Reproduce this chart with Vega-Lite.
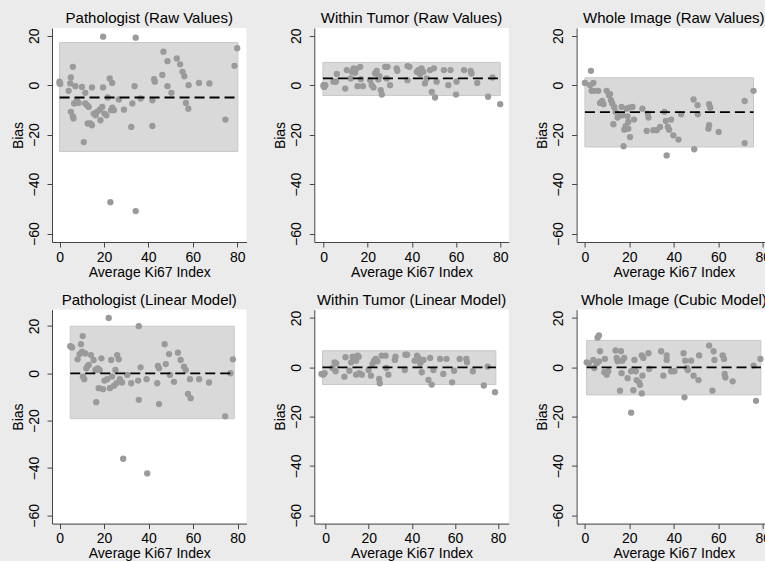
{
  "$schema": "https://vega.github.io/schema/vega-lite/v6.json",
  "background": "#ebebeb",
  "padding": {"left": 10, "top": 10, "right": 0, "bottom": 0},
  "datasets": {
    "stats": [
      {"p": "p1", "xmin": 0, "xmax": 80.3, "lo": -26.8, "hi": 17.2, "mean": -5},
      {"p": "p2", "xmin": -0.3, "xmax": 80, "lo": -4.2, "hi": 9.2, "mean": 2.7},
      {"p": "p3", "xmin": 0, "xmax": 75.9, "lo": -25, "hi": 3, "mean": -10.9},
      {"p": "p4", "xmin": 4.8, "xmax": 78.5, "lo": -19.2, "hi": 19.9, "mean": 0},
      {"p": "p5", "xmin": -1.5, "xmax": 79, "lo": -7.0, "hi": 6.7, "mean": 0},
      {"p": "p6", "xmin": 0.75, "xmax": 79.2, "lo": -11.2, "hi": 10.9, "mean": 0}
    ],
    "pts": [
      {"p":"p1","x":0,"y":1.4},{"p":"p1","x":0.3,"y":0.5},{"p":"p1","x":0,"y":0.8},
      {"p":"p1","x":4.1,"y":-2.3},{"p":"p1","x":4.8,"y":0.7},{"p":"p1","x":5.1,"y":3.1},
      {"p":"p1","x":6,"y":7.4},{"p":"p1","x":7.1,"y":-0.4},{"p":"p1","x":5.1,"y":-10.8},
      {"p":"p1","x":6,"y":-12.6},{"p":"p1","x":6.3,"y":-13.5},{"p":"p1","x":6.6,"y":-7.4},
      {"p":"p1","x":7.8,"y":-6.1},{"p":"p1","x":8.6,"y":-7.2},{"p":"p1","x":10.1,"y":-0.7},
      {"p":"p1","x":10.9,"y":-23},{"p":"p1","x":11.6,"y":-3.1},{"p":"p1","x":11.6,"y":-7.4},
      {"p":"p1","x":12.4,"y":-8.1},{"p":"p1","x":12.7,"y":-15.5},{"p":"p1","x":13.1,"y":-8.8},
      {"p":"p1","x":13.9,"y":-15.5},{"p":"p1","x":14.6,"y":-0.9},{"p":"p1","x":14.6,"y":-16.2},
      {"p":"p1","x":15.4,"y":-11.5},{"p":"p1","x":16.2,"y":-12.2},{"p":"p1","x":16.9,"y":-10.8},
      {"p":"p1","x":18.1,"y":-9.9},{"p":"p1","x":18.4,"y":-14.2},{"p":"p1","x":19.6,"y":19.6},
      {"p":"p1","x":19.6,"y":-0.9},{"p":"p1","x":19.2,"y":-8.8},{"p":"p1","x":20.2,"y":-11.5},
      {"p":"p1","x":21.1,"y":-12.2},{"p":"p1","x":21.7,"y":-5},{"p":"p1","x":22.6,"y":2.7},
      {"p":"p1","x":23.2,"y":-10.1},{"p":"p1","x":23.7,"y":0.9},{"p":"p1","x":22.9,"y":-47.3},
      {"p":"p1","x":23.8,"y":-9.1},{"p":"p1","x":24.5,"y":-10.1},{"p":"p1","x":26.7,"y":-5.8},
      {"p":"p1","x":29,"y":-9.9},{"p":"p1","x":32.3,"y":-16.9},{"p":"p1","x":32.8,"y":-7.4},
      {"p":"p1","x":34.3,"y":19.2},{"p":"p1","x":33.8,"y":-0.4},{"p":"p1","x":34.3,"y":-50.9},
      {"p":"p1","x":36.5,"y":-5.4},{"p":"p1","x":41.8,"y":-6.1},{"p":"p1","x":41.8,"y":-16.5},
      {"p":"p1","x":42.6,"y":2.4},{"p":"p1","x":42.9,"y":1.4},{"p":"p1","x":46.3,"y":4.1},
      {"p":"p1","x":46.8,"y":13.5},{"p":"p1","x":48.6,"y":9.7},{"p":"p1","x":48.6,"y":-0.4},
      {"p":"p1","x":50.4,"y":-3.1},{"p":"p1","x":52.8,"y":10.8},{"p":"p1","x":54.3,"y":8.4},
      {"p":"p1","x":55.4,"y":5.4},{"p":"p1","x":56.2,"y":3.6},{"p":"p1","x":56.9,"y":-7.2},
      {"p":"p1","x":58,"y":-9.5},{"p":"p1","x":58.1,"y":0},{"p":"p1","x":62.8,"y":0.9},
      {"p":"p1","x":67.5,"y":0.7},{"p":"p1","x":74.7,"y":-13.9},{"p":"p1","x":78.8,"y":7.8},
      {"p":"p1","x":80,"y":14.9},

      {"p":"p2","x":0,"y":0},{"p":"p2","x":0,"y":-0.4},{"p":"p2","x":0.3,"y":-0.7},{"p":"p2","x":0.8,"y":0},
      {"p":"p2","x":4.5,"y":1.4},{"p":"p2","x":5.6,"y":1.4},{"p":"p2","x":6,"y":4.5},
      {"p":"p2","x":9.8,"y":-1.4},{"p":"p2","x":10.5,"y":6.1},{"p":"p2","x":12.3,"y":2.7},
      {"p":"p2","x":12.8,"y":5.4},{"p":"p2","x":13.6,"y":6.8},{"p":"p2","x":14.3,"y":5},
      {"p":"p2","x":14.8,"y":6.5},{"p":"p2","x":15.4,"y":-0.4},{"p":"p2","x":16.6,"y":7.4},
      {"p":"p2","x":16.9,"y":2.4},{"p":"p2","x":17.8,"y":-0.4},{"p":"p2","x":21.1,"y":2},
      {"p":"p2","x":21.8,"y":0},{"p":"p2","x":22.6,"y":-0.9},{"p":"p2","x":23.3,"y":4.7},
      {"p":"p2","x":24.1,"y":5.8},{"p":"p2","x":24.8,"y":2.3},{"p":"p2","x":25.3,"y":3.6},
      {"p":"p2","x":25.9,"y":-2},{"p":"p2","x":26.4,"y":-3.8},{"p":"p2","x":27.9,"y":7.4},
      {"p":"p2","x":28.9,"y":7.4},{"p":"p2","x":28.6,"y":2.7},{"p":"p2","x":30.1,"y":0},
      {"p":"p2","x":33.1,"y":6.8},{"p":"p2","x":33.4,"y":5.8},{"p":"p2","x":38,"y":7.7},
      {"p":"p2","x":38.9,"y":7.4},{"p":"p2","x":38,"y":2},{"p":"p2","x":42.2,"y":5.4},
      {"p":"p2","x":42.9,"y":6.1},{"p":"p2","x":43.7,"y":4.5},{"p":"p2","x":44.4,"y":6.8},
      {"p":"p2","x":45.2,"y":5.4},{"p":"p2","x":45.9,"y":0.7},{"p":"p2","x":46.7,"y":2.7},
      {"p":"p2","x":48.2,"y":6.1},{"p":"p2","x":49,"y":-2.7},{"p":"p2","x":50,"y":6.8},
      {"p":"p2","x":50.5,"y":-5},{"p":"p2","x":51.2,"y":1.4},{"p":"p2","x":54.5,"y":6.1},
      {"p":"p2","x":56.5,"y":0},{"p":"p2","x":57.5,"y":6.1},{"p":"p2","x":60,"y":-3.8},
      {"p":"p2","x":60.2,"y":1.4},{"p":"p2","x":63.6,"y":6.1},{"p":"p2","x":66.6,"y":5.8},
      {"p":"p2","x":67,"y":4.7},{"p":"p2","x":69.6,"y":0.9},{"p":"p2","x":74.5,"y":-4.7},
      {"p":"p2","x":76.5,"y":3.1},{"p":"p2","x":80,"y":-7.7},

      {"p":"p3","x":0,"y":0.9},{"p":"p3","x":2.3,"y":0},{"p":"p3","x":2.7,"y":5.8},
      {"p":"p3","x":3,"y":-2.3},{"p":"p3","x":3.8,"y":0.9},{"p":"p3","x":4.2,"y":-2.3},
      {"p":"p3","x":6,"y":-2.3},{"p":"p3","x":6.8,"y":-7.2},{"p":"p3","x":7.8,"y":-6.4},
      {"p":"p3","x":8.3,"y":-7.7},{"p":"p3","x":9.8,"y":-2.3},{"p":"p3","x":10.8,"y":-4.1},
      {"p":"p3","x":11.3,"y":-3.6},{"p":"p3","x":11.7,"y":-6.1},{"p":"p3","x":12.3,"y":-7.4},
      {"p":"p3","x":12.8,"y":-15.8},{"p":"p3","x":13.2,"y":-8.8},{"p":"p3","x":13.8,"y":-10.8},
      {"p":"p3","x":14.7,"y":-13.1},{"p":"p3","x":15.8,"y":-12.2},{"p":"p3","x":16.5,"y":-8.8},
      {"p":"p3","x":16.8,"y":-12.2},{"p":"p3","x":17.4,"y":-24.7},{"p":"p3","x":17.7,"y":-18},
      {"p":"p3","x":18.3,"y":-16.6},{"p":"p3","x":18.8,"y":-9.5},{"p":"p3","x":19.2,"y":-12.6},
      {"p":"p3","x":19.5,"y":-14.9},{"p":"p3","x":19.5,"y":-17.6},{"p":"p3","x":19.8,"y":-9.1},
      {"p":"p3","x":20.3,"y":-21},{"p":"p3","x":21.4,"y":-8.8},{"p":"p3","x":22.1,"y":-13.9},
      {"p":"p3","x":25.9,"y":-9.5},{"p":"p3","x":27.8,"y":-18.5},{"p":"p3","x":28.3,"y":-11.5},
      {"p":"p3","x":28.6,"y":-13.1},{"p":"p3","x":30.8,"y":-18.2},{"p":"p3","x":32.3,"y":-18.2},
      {"p":"p3","x":33.8,"y":-16.9},{"p":"p3","x":35.8,"y":-10.8},{"p":"p3","x":36.4,"y":-14.5},
      {"p":"p3","x":36.8,"y":-28.4},{"p":"p3","x":37.3,"y":-16.9},{"p":"p3","x":37.9,"y":-18},
      {"p":"p3","x":38.8,"y":-13.9},{"p":"p3","x":39.8,"y":-20.3},{"p":"p3","x":42.1,"y":-22},
      {"p":"p3","x":43.3,"y":-11.8},{"p":"p3","x":48.9,"y":-5.8},{"p":"p3","x":49.2,"y":-25.9},
      {"p":"p3","x":50.7,"y":-8.1},{"p":"p3","x":50.8,"y":-11.8},{"p":"p3","x":55.9,"y":-7.7},
      {"p":"p3","x":56.4,"y":-9.1},{"p":"p3","x":55.9,"y":-16.2},{"p":"p3","x":55.6,"y":-17.6},
      {"p":"p3","x":60.2,"y":-18.9},{"p":"p3","x":71.9,"y":-6.4},{"p":"p3","x":71.9,"y":-23.4},
      {"p":"p3","x":75.9,"y":-2.3},

      {"p":"p4","x":5.1,"y":11.2},{"p":"p4","x":4.8,"y":11.5},{"p":"p4","x":5.6,"y":10.9},
      {"p":"p4","x":8.1,"y":5.9},{"p":"p4","x":9,"y":8.1},{"p":"p4","x":9.6,"y":12.3},
      {"p":"p4","x":10.1,"y":9.1},{"p":"p4","x":10.4,"y":15.7},{"p":"p4","x":10.5,"y":-1.4},
      {"p":"p4","x":11.1,"y":-2.5},{"p":"p4","x":11.6,"y":8.4},{"p":"p4","x":12,"y":2.1},
      {"p":"p4","x":12.6,"y":3.1},{"p":"p4","x":13.1,"y":3.5},{"p":"p4","x":14.1,"y":7.7},
      {"p":"p4","x":15.3,"y":5.6},{"p":"p4","x":16.1,"y":1.4},{"p":"p4","x":16.5,"y":-12.2},
      {"p":"p4","x":17.1,"y":2.1},{"p":"p4","x":17.6,"y":-6.3},{"p":"p4","x":18,"y":1.4},
      {"p":"p4","x":18.8,"y":6.3},{"p":"p4","x":19.5,"y":-6.7},{"p":"p4","x":20.2,"y":-3.1},
      {"p":"p4","x":21.4,"y":-2.5},{"p":"p4","x":22.1,"y":23.4},{"p":"p4","x":22.6,"y":-6.3},
      {"p":"p4","x":23.2,"y":5.6},{"p":"p4","x":23.6,"y":-1.4},{"p":"p4","x":24.4,"y":-5.3},
      {"p":"p4","x":25.1,"y":1.4},{"p":"p4","x":25.6,"y":-4.2},{"p":"p4","x":25.9,"y":7.7},
      {"p":"p4","x":26.6,"y":5.9},{"p":"p4","x":27.1,"y":-2.5},{"p":"p4","x":28.1,"y":-3.9},
      {"p":"p4","x":28.6,"y":-36.1},{"p":"p4","x":30.4,"y":-0.7},{"p":"p4","x":32.2,"y":-4.2},
      {"p":"p4","x":35.3,"y":-3.1},{"p":"p4","x":35.6,"y":19.9},{"p":"p4","x":35.6,"y":-11.2},
      {"p":"p4","x":36.4,"y":2.5},{"p":"p4","x":39.1,"y":-2.5},{"p":"p4","x":39.4,"y":-42.3},
      {"p":"p4","x":43.9,"y":-4.2},{"p":"p4","x":44.2,"y":3.1},{"p":"p4","x":44.7,"y":2.1},
      {"p":"p4","x":44.7,"y":-13},{"p":"p4","x":47.2,"y":12.3},{"p":"p4","x":47.7,"y":3.9},
      {"p":"p4","x":49.2,"y":8.1},{"p":"p4","x":49.6,"y":-0.7},{"p":"p4","x":51.4,"y":-3.6},
      {"p":"p4","x":53.2,"y":8.7},{"p":"p4","x":54.4,"y":5.6},{"p":"p4","x":55.9,"y":2.8},
      {"p":"p4","x":56.7,"y":1.4},{"p":"p4","x":57.7,"y":-8.7},{"p":"p4","x":58.6,"y":-2.5},
      {"p":"p4","x":58.9,"y":-10.5},{"p":"p4","x":62.7,"y":-2.5},{"p":"p4","x":67.2,"y":-3.9},
      {"p":"p4","x":74.4,"y":-18.2},{"p":"p4","x":76.8,"y":0},{"p":"p4","x":77.9,"y":5.9},

      {"p":"p5","x":-2,"y":-2.7},{"p":"p5","x":-1.2,"y":-3},{"p":"p5","x":-0.5,"y":-2.4},
      {"p":"p5","x":3.1,"y":-0.3},{"p":"p5","x":4.1,"y":2},{"p":"p5","x":4.6,"y":-1.6},
      {"p":"p5","x":4.9,"y":1.6},{"p":"p5","x":8.7,"y":-3.8},{"p":"p5","x":9.2,"y":4.1},
      {"p":"p5","x":11,"y":-1.4},{"p":"p5","x":11.8,"y":2},{"p":"p5","x":12.5,"y":4.3},
      {"p":"p5","x":13.3,"y":3},{"p":"p5","x":14.1,"y":2.7},{"p":"p5","x":14.8,"y":4.7},
      {"p":"p5","x":15.3,"y":4.3},{"p":"p5","x":14.1,"y":-3},{"p":"p5","x":15.6,"y":-2.4},
      {"p":"p5","x":16.8,"y":-3},{"p":"p5","x":19.9,"y":-1.1},{"p":"p5","x":21,"y":-3.4},
      {"p":"p5","x":21.7,"y":1.4},{"p":"p5","x":22.5,"y":2.7},{"p":"p5","x":23.2,"y":3.4},
      {"p":"p5","x":24,"y":2.4},{"p":"p5","x":24.8,"y":-4.7},{"p":"p5","x":25.1,"y":-6.5},
      {"p":"p5","x":26,"y":4.7},{"p":"p5","x":27.8,"y":4.7},{"p":"p5","x":28.1,"y":-0.3},
      {"p":"p5","x":29.1,"y":-3},{"p":"p5","x":32.1,"y":3},{"p":"p5","x":32.4,"y":4.3},
      {"p":"p5","x":36.7,"y":-1.1},{"p":"p5","x":37,"y":5.1},{"p":"p5","x":37.8,"y":5.1},
      {"p":"p5","x":41.3,"y":2.7},{"p":"p5","x":42.4,"y":4.7},{"p":"p5","x":43.1,"y":3.8},
      {"p":"p5","x":43.9,"y":1.6},{"p":"p5","x":44.6,"y":-2},{"p":"p5","x":45.4,"y":3},
      {"p":"p5","x":47.7,"y":-5.1},{"p":"p5","x":48.5,"y":3.8},{"p":"p5","x":49.2,"y":-7},
      {"p":"p5","x":50,"y":-1.1},{"p":"p5","x":53.1,"y":3.4},{"p":"p5","x":54.6,"y":-2.7},
      {"p":"p5","x":56.1,"y":3.4},{"p":"p5","x":58.7,"y":-6.1},{"p":"p5","x":59.6,"y":-1.4},
      {"p":"p5","x":62.2,"y":3.4},{"p":"p5","x":65.3,"y":3.4},{"p":"p5","x":65.6,"y":2},
      {"p":"p5","x":68.3,"y":-1.6},{"p":"p5","x":73.4,"y":-7.4},{"p":"p5","x":75.2,"y":0.3},
      {"p":"p5","x":78.6,"y":-10.1},

      {"p":"p6","x":0.8,"y":2},{"p":"p6","x":1.8,"y":1.6},{"p":"p6","x":3.8,"y":3},
      {"p":"p6","x":4.2,"y":-0.3},{"p":"p6","x":5.3,"y":1.6},{"p":"p6","x":5.7,"y":12},
      {"p":"p6","x":6.3,"y":12.9},{"p":"p6","x":6.3,"y":2.4},{"p":"p6","x":6.8,"y":6.5},
      {"p":"p6","x":8.7,"y":-2},{"p":"p6","x":9,"y":3.4},{"p":"p6","x":9.8,"y":-3},
      {"p":"p6","x":10.5,"y":-1.6},{"p":"p6","x":13.8,"y":6.8},{"p":"p6","x":14.3,"y":3.8},
      {"p":"p6","x":14.7,"y":2.4},{"p":"p6","x":15.8,"y":-9.5},{"p":"p6","x":16.2,"y":6.5},
      {"p":"p6","x":16.5,"y":-2.4},{"p":"p6","x":16.8,"y":2.7},{"p":"p6","x":17.7,"y":3.8},
      {"p":"p6","x":19.2,"y":-4.4},{"p":"p6","x":20.8,"y":-1.6},{"p":"p6","x":20.8,"y":-18.4},
      {"p":"p6","x":21.8,"y":-9.3},{"p":"p6","x":22.3,"y":3},{"p":"p6","x":22.9,"y":-1.6},
      {"p":"p6","x":23.3,"y":-5.2},{"p":"p6","x":24.4,"y":-6.1},{"p":"p6","x":24.8,"y":-7.1},
      {"p":"p6","x":25.6,"y":-10.6},{"p":"p6","x":25.6,"y":4.8},{"p":"p6","x":26.3,"y":3.8},
      {"p":"p6","x":25.9,"y":-3.4},{"p":"p6","x":28.6,"y":5.7},{"p":"p6","x":28.9,"y":-0.7},
      {"p":"p6","x":34.3,"y":6.5},{"p":"p6","x":35.3,"y":-3.4},{"p":"p6","x":36.8,"y":4.8},
      {"p":"p6","x":36.8,"y":3},{"p":"p6","x":38.8,"y":-1.6},{"p":"p6","x":40.3,"y":-1.6},
      {"p":"p6","x":44.4,"y":5.7},{"p":"p6","x":44.8,"y":-12.2},{"p":"p6","x":45.1,"y":2.7},
      {"p":"p6","x":45.9,"y":-0.3},{"p":"p6","x":46.3,"y":-1.1},{"p":"p6","x":47.8,"y":2.7},
      {"p":"p6","x":48.9,"y":-3.4},{"p":"p6","x":51.1,"y":-5.2},{"p":"p6","x":51.4,"y":4.8},
      {"p":"p6","x":55.9,"y":8.8},{"p":"p6","x":57.9,"y":6.5},{"p":"p6","x":57.4,"y":-9.5},
      {"p":"p6","x":58.3,"y":3},{"p":"p6","x":62,"y":4.8},{"p":"p6","x":62.6,"y":3.4},
      {"p":"p6","x":62.9,"y":-2.7},{"p":"p6","x":63.2,"y":-4.1},{"p":"p6","x":66.5,"y":-5.7},
      {"p":"p6","x":75.9,"y":0.7},{"p":"p6","x":77,"y":-13.6},{"p":"p6","x":79,"y":3.4}
    ]
  },
  "columns": 3,
  "spacing": {"row": 67.6, "column": 67.3},
  "bounds": "flush",
  "concat": [
    {
      "title": "Pathologist (Raw Values)",
      "width": 194.5, "height": 214,
      "layer": [
        {"data": {"name": "stats"}, "transform": [{"filter": "datum.p == 'p1'"}],
         "mark": {"type": "rect", "fill": "#d9d9d9", "stroke": "#c8c8c8", "strokeWidth": 1},
         "encoding": {"x": {"field": "xmin", "type": "quantitative", "title": "Average Ki67 Index", "scale": {"domain": [-3.4, 84.2], "nice": false, "zero": false}},
                      "x2": {"field": "xmax"},
                      "y": {"field": "lo", "type": "quantitative", "title": "Bias", "scale": {"domain": [-63.4, 23.1], "nice": false, "zero": false}},
                      "y2": {"field": "hi"}}},
        {"data": {"name": "pts"}, "transform": [{"filter": "datum.p == 'p1'"}],
         "mark": {"type": "circle", "size": 40, "color": "#9a9a9a", "opacity": 1},
         "encoding": {"x": {"field": "x", "type": "quantitative", "title": "Average Ki67 Index"},
                      "y": {"field": "y", "type": "quantitative", "title": "Bias"}}},
        {"data": {"name": "stats"}, "transform": [{"filter": "datum.p == 'p1'"}],
         "mark": {"type": "rule", "color": "black", "strokeWidth": 1.8, "strokeDash": [10, 5]},
         "encoding": {"x": {"field": "xmin", "type": "quantitative", "title": "Average Ki67 Index"},
                      "x2": {"field": "xmax"},
                      "y": {"field": "mean", "type": "quantitative", "title": "Bias"}}}
      ]
    },
    {
      "title": "Within Tumor (Raw Values)",
      "width": 194.5, "height": 214,
      "layer": [
        {"data": {"name": "stats"}, "transform": [{"filter": "datum.p == 'p2'"}],
         "mark": {"type": "rect", "fill": "#d9d9d9", "stroke": "#c8c8c8", "strokeWidth": 1},
         "encoding": {"x": {"field": "xmin", "type": "quantitative", "title": "Average Ki67 Index", "scale": {"domain": [-4.2, 83.9], "nice": false, "zero": false}},
                      "x2": {"field": "xmax"},
                      "y": {"field": "lo", "type": "quantitative", "title": "Bias", "scale": {"domain": [-63.4, 23.1], "nice": false, "zero": false}},
                      "y2": {"field": "hi"}}},
        {"data": {"name": "pts"}, "transform": [{"filter": "datum.p == 'p2'"}],
         "mark": {"type": "circle", "size": 40, "color": "#9a9a9a", "opacity": 1},
         "encoding": {"x": {"field": "x", "type": "quantitative", "title": "Average Ki67 Index"},
                      "y": {"field": "y", "type": "quantitative", "title": "Bias"}}},
        {"data": {"name": "stats"}, "transform": [{"filter": "datum.p == 'p2'"}],
         "mark": {"type": "rule", "color": "black", "strokeWidth": 1.8, "strokeDash": [10, 5]},
         "encoding": {"x": {"field": "xmin", "type": "quantitative", "title": "Average Ki67 Index"},
                      "x2": {"field": "xmax"},
                      "y": {"field": "mean", "type": "quantitative", "title": "Bias"}}}
      ]
    },
    {
      "title": "Whole Image (Raw Values)",
      "width": 194.5, "height": 214,
      "layer": [
        {"data": {"name": "stats"}, "transform": [{"filter": "datum.p == 'p3'"}],
         "mark": {"type": "rect", "fill": "#d9d9d9", "stroke": "#c8c8c8", "strokeWidth": 1},
         "encoding": {"x": {"field": "xmin", "type": "quantitative", "title": "Average Ki67 Index", "scale": {"domain": [-3.75, 83.8], "nice": false, "zero": false}},
                      "x2": {"field": "xmax"},
                      "y": {"field": "lo", "type": "quantitative", "title": "Bias", "scale": {"domain": [-63.4, 23.1], "nice": false, "zero": false}},
                      "y2": {"field": "hi"}}},
        {"data": {"name": "pts"}, "transform": [{"filter": "datum.p == 'p3'"}],
         "mark": {"type": "circle", "size": 40, "color": "#9a9a9a", "opacity": 1},
         "encoding": {"x": {"field": "x", "type": "quantitative", "title": "Average Ki67 Index"},
                      "y": {"field": "y", "type": "quantitative", "title": "Bias"}}},
        {"data": {"name": "stats"}, "transform": [{"filter": "datum.p == 'p3'"}],
         "mark": {"type": "rule", "color": "black", "strokeWidth": 1.8, "strokeDash": [10, 5]},
         "encoding": {"x": {"field": "xmin", "type": "quantitative", "title": "Average Ki67 Index"},
                      "x2": {"field": "xmax"},
                      "y": {"field": "mean", "type": "quantitative", "title": "Bias"}}}
      ]
    },
    {
      "title": "Pathologist (Linear Model)",
      "width": 194.5, "height": 214,
      "layer": [
        {"data": {"name": "stats"}, "transform": [{"filter": "datum.p == 'p4'"}],
         "mark": {"type": "rect", "fill": "#d9d9d9", "stroke": "#c8c8c8", "strokeWidth": 1},
         "encoding": {"x": {"field": "xmin", "type": "quantitative", "title": "Average Ki67 Index", "scale": {"domain": [-3.4, 84], "nice": false, "zero": false}},
                      "x2": {"field": "xmax"},
                      "y": {"field": "lo", "type": "quantitative", "title": "Bias", "scale": {"domain": [-63.5, 26.9], "nice": false, "zero": false}},
                      "y2": {"field": "hi"}}},
        {"data": {"name": "pts"}, "transform": [{"filter": "datum.p == 'p4'"}],
         "mark": {"type": "circle", "size": 40, "color": "#9a9a9a", "opacity": 1},
         "encoding": {"x": {"field": "x", "type": "quantitative", "title": "Average Ki67 Index"},
                      "y": {"field": "y", "type": "quantitative", "title": "Bias"}}},
        {"data": {"name": "stats"}, "transform": [{"filter": "datum.p == 'p4'"}],
         "mark": {"type": "rule", "color": "black", "strokeWidth": 1.8, "strokeDash": [10, 5]},
         "encoding": {"x": {"field": "xmin", "type": "quantitative", "title": "Average Ki67 Index"},
                      "x2": {"field": "xmax"},
                      "y": {"field": "mean", "type": "quantitative", "title": "Bias"}}}
      ]
    },
    {
      "title": "Within Tumor (Linear Model)",
      "width": 194.5, "height": 214,
      "layer": [
        {"data": {"name": "stats"}, "transform": [{"filter": "datum.p == 'p5'"}],
         "mark": {"type": "rect", "fill": "#d9d9d9", "stroke": "#c8c8c8", "strokeWidth": 1},
         "encoding": {"x": {"field": "xmin", "type": "quantitative", "title": "Average Ki67 Index", "scale": {"domain": [-5.3, 85], "nice": false, "zero": false}},
                      "x2": {"field": "xmax"},
                      "y": {"field": "lo", "type": "quantitative", "title": "Bias", "scale": {"domain": [-63.4, 23.4], "nice": false, "zero": false}},
                      "y2": {"field": "hi"}}},
        {"data": {"name": "pts"}, "transform": [{"filter": "datum.p == 'p5'"}],
         "mark": {"type": "circle", "size": 40, "color": "#9a9a9a", "opacity": 1},
         "encoding": {"x": {"field": "x", "type": "quantitative", "title": "Average Ki67 Index"},
                      "y": {"field": "y", "type": "quantitative", "title": "Bias"}}},
        {"data": {"name": "stats"}, "transform": [{"filter": "datum.p == 'p5'"}],
         "mark": {"type": "rule", "color": "black", "strokeWidth": 1.8, "strokeDash": [10, 5]},
         "encoding": {"x": {"field": "xmin", "type": "quantitative", "title": "Average Ki67 Index"},
                      "x2": {"field": "xmax"},
                      "y": {"field": "mean", "type": "quantitative", "title": "Bias"}}}
      ]
    },
    {
      "title": "Whole Image (Cubic Model)",
      "width": 194.5, "height": 214,
      "layer": [
        {"data": {"name": "stats"}, "transform": [{"filter": "datum.p == 'p6'"}],
         "mark": {"type": "rect", "fill": "#d9d9d9", "stroke": "#c8c8c8", "strokeWidth": 1},
         "encoding": {"x": {"field": "xmin", "type": "quantitative", "title": "Average Ki67 Index", "scale": {"domain": [-3.75, 83.8], "nice": false, "zero": false}},
                      "x2": {"field": "xmax"},
                      "y": {"field": "lo", "type": "quantitative", "title": "Bias", "scale": {"domain": [-63.4, 23.4], "nice": false, "zero": false}},
                      "y2": {"field": "hi"}}},
        {"data": {"name": "pts"}, "transform": [{"filter": "datum.p == 'p6'"}],
         "mark": {"type": "circle", "size": 40, "color": "#9a9a9a", "opacity": 1},
         "encoding": {"x": {"field": "x", "type": "quantitative", "title": "Average Ki67 Index"},
                      "y": {"field": "y", "type": "quantitative", "title": "Bias"}}},
        {"data": {"name": "stats"}, "transform": [{"filter": "datum.p == 'p6'"}],
         "mark": {"type": "rule", "color": "black", "strokeWidth": 1.8, "strokeDash": [10, 5]},
         "encoding": {"x": {"field": "xmin", "type": "quantitative", "title": "Average Ki67 Index"},
                      "x2": {"field": "xmax"},
                      "y": {"field": "mean", "type": "quantitative", "title": "Bias"}}}
      ]
    }
  ],
  "config": {
    "view": {"fill": "white", "stroke": null},
    "axis": {"grid": false, "domainColor": "#444444", "tickColor": "#444444", "tickSize": 5,
             "labelFont": "Liberation Sans", "titleFont": "Liberation Sans",
             "labelFontSize": 14, "titleFontSize": 14, "titleFontWeight": "normal",
             "labelColor": "black", "titleColor": "black", "tickCount": 5,
             "labelFlush": false, "labelOverlap": false},
    "axisX": {"labelPadding": 3, "titlePadding": 1},
    "axisY": {"labelAngle": 270, "labelAlign": "center", "labelBaseline": "alphabetic", "labelPadding": 9, "titlePadding": 2},
    "title": {"font": "Liberation Sans", "fontSize": 15, "fontWeight": "normal", "offset": 2, "color": "black", "anchor": "middle"}
  }
}
